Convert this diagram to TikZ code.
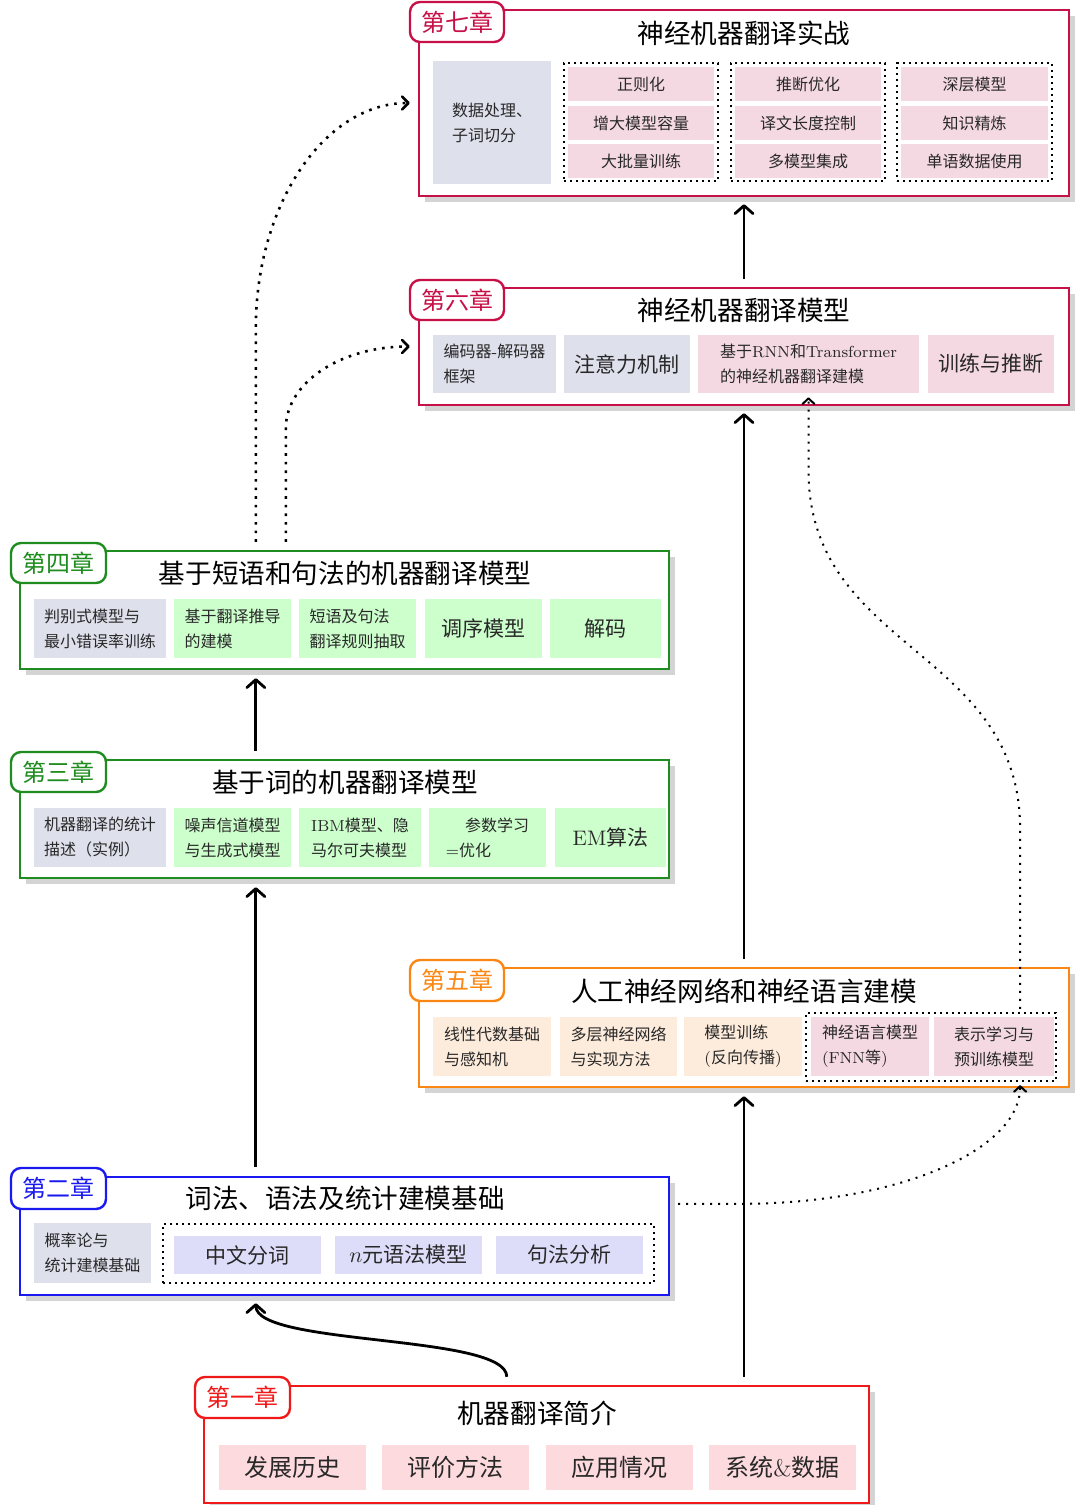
\documentclass[tikz,border=0pt]{standalone}
\usepackage{fontspec}
\newfontfamily\cjk{Noto Sans CJK SC}
\usetikzlibrary{fit,calc,arrows.meta,shadows}
\definecolor{cmag}{RGB}{200,16,72}
\definecolor{cgrn}{RGB}{30,140,30}
\definecolor{corg}{RGB}{250,135,20}
\definecolor{cblu}{RGB}{25,25,240}
\definecolor{cred}{RGB}{240,25,25}
\definecolor{fgray}{RGB}{222,224,236}
\definecolor{fpink}{RGB}{244,217,226}
\definecolor{fgreen}{RGB}{205,255,205}
\definecolor{forange}{RGB}{253,236,220}
\definecolor{flav}{RGB}{221,221,250}
\definecolor{fred}{RGB}{253,218,222}
\definecolor{shadowc}{RGB}{212,212,212}
\definecolor{txt}{RGB}{40,40,40}
\newcommand\fsz[2]{\fontsize{#1}{#2}\selectfont\cjk}
\newcommand\lat[1]{{\rmfamily #1}}
% \Bx{name}{style}{x1}{y1}{x2}{y2}{text}
\newcommand\Bx[7]{\node[#2, minimum width={(#5-#3)*0.5pt}, minimum height={(#6-#4)*0.5pt}]
  (#1) at ({(#3+#5)/2},{(#4+#6)/2}) {#7};}
\begin{document}
\begin{tikzpicture}[x=0.5pt,y=-0.5pt,
  chap/.style={draw=#1, line width=1.2pt, fill=white, inner sep=0pt,
    drop shadow={shadow xshift=3pt, shadow yshift=-3pt, fill=shadowc, opacity=1}},
  chtag/.style={draw=#1, line width=1.2pt, fill=white, rounded corners=5pt, text=#1,
    inner sep=0pt, font=\fsz{12}{14}},
  ttl/.style={inner sep=0pt, font=\fsz{13.3}{16}},
  sbox/.style={fill=#1, inner sep=0pt, align=left, text=txt, font=\fsz{8}{12.5}},
  bbox/.style={fill=#1, inner sep=0pt, align=center, text=txt, font=\fsz{10.5}{13}},
  lbox/.style={fill=#1, inner sep=0pt, align=center, text=txt, font=\fsz{12}{14}},
  grpbox/.style={draw, line width=1.1pt, dash pattern=on 1.1pt off 1.9pt, inner sep=0pt},
  solidarr/.style={-{Straight Barb[length=4pt,width=9pt,round]}, line width=1.4pt},
  dotarr/.style={-{Straight Barb[length=3.2pt,width=6.5pt,round]}, line width=1.3pt, dash pattern=on 1.3pt off 3pt},
  thindot/.style={-{Straight Barb[length=2.8pt,width=6pt,round]}, line width=1pt, dash pattern=on 1pt off 3pt}
]
\useasboundingbox (0,0) rectangle (1080,1505);

% ---------- Chapter 7 ----------
\node[chap=cmag, fit={(419,10)(1069,196)}] (c7) {};
\Bx{t7}{chtag=cmag}{410}{2}{504}{42}{第七章}
\node[ttl] (h7) at (744,33) {神经机器翻译实战};
\Bx{d7}{sbox=fgray}{433}{61}{551}{184}{数据处理、\\子词切分}
\node[grpbox, fit={(564,63)(718,181)}] (g7a) {};
\node[grpbox, fit={(731,63)(885,181)}] (g7b) {};
\node[grpbox, fit={(897,63)(1052,181)}] (g7c) {};
\Bx{r7a1}{sbox=fpink}{568}{67}{714}{101}{正则化}
\Bx{r7a2}{sbox=fpink}{568}{106}{714}{140}{增大模型容量}
\Bx{r7a3}{sbox=fpink}{568}{144}{714}{178}{大批量训练}
\Bx{r7b1}{sbox=fpink}{735}{67}{881}{101}{推断优化}
\Bx{r7b2}{sbox=fpink}{735}{106}{881}{140}{译文长度控制}
\Bx{r7b3}{sbox=fpink}{735}{144}{881}{178}{多模型集成}
\Bx{r7c1}{sbox=fpink}{901}{67}{1048}{101}{深层模型}
\Bx{r7c2}{sbox=fpink}{901}{106}{1048}{140}{知识精炼}
\Bx{r7c3}{sbox=fpink}{901}{144}{1048}{178}{单语数据使用}

% ---------- Chapter 6 ----------
\node[chap=cmag, fit={(419,288)(1069,405)}] (c6) {};
\Bx{t6}{chtag=cmag}{410}{280}{504}{320}{第六章}
\node[ttl] (h6) at (744,310) {神经机器翻译模型};
\Bx{n6a}{sbox=fgray}{433}{335}{556}{393}{编码器\lat{-}解码器\\框架}
\Bx{n6b}{bbox=fgray}{564}{335}{690}{393}{注意力机制}
\Bx{n6c}{sbox=fpink}{698}{335}{919}{393}{基于\lat{RNN}和\lat{Transformer}\\的神经机器翻译建模}
\Bx{n6d}{bbox=fpink}{928}{335}{1054}{393}{训练与推断}

% ---------- Chapter 4 ----------
\node[chap=cgrn, fit={(20,551)(669,669)}] (c4) {};
\Bx{t4}{chtag=cgrn}{11}{543}{106}{583}{第四章}
\node[ttl] (h4) at (345,573) {基于短语和句法的机器翻译模型};
\Bx{n4a}{sbox=fgray}{34}{599}{166}{658}{判别式模型与\\最小错误率训练}
\Bx{n4b}{sbox=fgreen}{174}{599}{291}{658}{基于翻译推导\\的建模}
\Bx{n4c}{sbox=fgreen}{299}{599}{416}{658}{短语及句法\\翻译规则抽取}
\Bx{n4d}{bbox=fgreen}{425}{599}{542}{658}{调序模型}
\Bx{n4e}{bbox=fgreen}{550}{599}{661}{658}{解码}

% ---------- Chapter 3 ----------
\node[chap=cgrn, fit={(20,760)(669,878)}] (c3) {};
\Bx{t3}{chtag=cgrn}{11}{752}{106}{792}{第三章}
\node[ttl] (h3) at (345,782) {基于词的机器翻译模型};
\Bx{n3a}{sbox=fgray}{34}{808}{166}{867}{机器翻译的统计\\描述（实例）}
\Bx{n3b}{sbox=fgreen}{174}{808}{291}{867}{噪声信道模型\\与生成式模型}
\Bx{n3c}{sbox=fgreen}{299}{808}{421}{867}{\lat{IBM}模型、隐\\马尔可夫模型}
\Bx{n3d}{sbox=fgreen}{429}{808}{546}{867}{\hspace{1.2em}参数学习\\\lat{=}优化}
\Bx{n3e}{bbox=fgreen}{555}{808}{666}{867}{\lat{EM}算法}

% ---------- Chapter 5 ----------
\node[chap=corg, fit={(419,968)(1069,1087)}] (c5) {};
\Bx{t5}{chtag=corg}{410}{960}{504}{1001}{第五章}
\node[ttl] (h5) at (744,991) {人工神经网络和神经语言建模};
\Bx{n5a}{sbox=forange}{433}{1017}{551}{1076}{线性代数基础\\与感知机}
\Bx{n5b}{sbox=forange}{560}{1017}{677}{1076}{多层神经网络\\与实现方法}
\Bx{n5c}{sbox=forange}{684}{1017}{802}{1076}{模型训练\\\lat{(}反向传播\lat{)}}
\node[grpbox, fit={(806,1013)(1056,1081)}] (g5) {};
\Bx{n5d}{sbox=fpink}{811}{1017}{929}{1076}{神经语言模型\\\lat{(FNN}等\lat{)}}
\Bx{n5e}{sbox=fpink}{934}{1017}{1054}{1076}{表示学习与\\预训练模型}

% ---------- Chapter 2 ----------
\node[chap=cblu, fit={(20,1177)(669,1295)}] (c2) {};
\Bx{t2}{chtag=cblu}{11}{1168}{106}{1209}{第二章}
\node[ttl] (h2) at (345,1198) {词法、语法及统计建模基础};
\Bx{n2a}{sbox=fgray}{34}{1223}{151}{1283}{概率论与\\统计建模基础}
\node[grpbox, fit={(163,1224)(654,1283)}] (g2) {};
\Bx{n2b}{bbox=flav}{174}{1236}{321}{1274}{中文分词}
\Bx{n2c}{bbox=flav}{335}{1236}{482}{1274}{$n$元语法模型}
\Bx{n2d}{bbox=flav}{496}{1236}{643}{1274}{句法分析}

% ---------- Chapter 1 ----------
\node[chap=cred, fit={(204,1386)(869,1503)}] (c1) {};
\Bx{t1}{chtag=cred}{195}{1377}{290}{1418}{第一章}
\node[ttl] (h1) at (537,1413) {机器翻译简介};
\Bx{n1a}{lbox=fred}{219}{1445}{366}{1490}{发展历史}
\Bx{n1b}{lbox=fred}{382}{1445}{529}{1490}{评价方法}
\Bx{n1c}{lbox=fred}{546}{1445}{693}{1490}{应用情况}
\Bx{n1d}{lbox=fred}{709}{1445}{856}{1490}{系统\lat{\&}数据}

% ---------- connectors ----------
\draw[solidarr] ($(c1.north west)+(304,-8)$) .. controls +(0,-43) and +(0,43) .. ($(c2.south west)+(237,7)$);
\draw[solidarr] ($(c5.south |- c1.north)+(0,-8)$) -- ($(c5.south)+(0,8)$);
\draw[solidarr] ($(c2.north west)+(237,-9)$) -- ($(c3.south west)+(237,8)$);
\draw[solidarr] ($(c3.north west)+(237,-8)$) -- ($(c4.south west)+(237,8)$);
\draw[solidarr] ($(c5.north)+(0,-8)$) -- ($(c6.south)+(0,7)$);
\draw[solidarr] ($(c6.north)+(0,-8)$) -- ($(c7.south)+(0,7)$);

\draw[dotarr] ($(c4.north west)+(237,-8)$) -- ++(0,-213) .. controls +(0,-125) and +(-85,0) .. ($(c7.west)+(-8,0)$);
\draw[dotarr] ($(c4.north west)+(267,-8)$) -- ++(0,-113) .. controls +(0,-47) and +(-68,0) .. ($(c6.west)+(-8,0)$);
\draw[thindot] ($(c2.north east)+(8,28)$) -- ++(63,0) .. controls +(154,0) and +(0,66) .. ($(g5.south east)+(-37,3)$);
\draw[thindot] ($(g5.north east)+(-37,-3)$) -- ++(0,-180) .. controls +(0,-180) and +(0,180) .. ($(n6c.south)+(0,77)$) -- ($(n6c.south)+(0,4)$);
\end{tikzpicture}
\end{document}
